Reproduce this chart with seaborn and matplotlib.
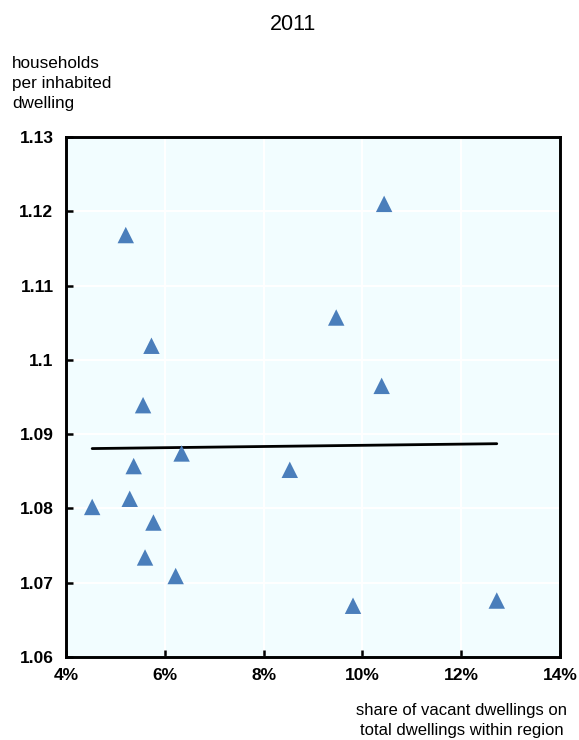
import numpy as np
import pandas as pd
import matplotlib
matplotlib.use("Agg")
import matplotlib.pyplot as plt
import seaborn as sns

# Data
vacant_share = [10.44, 5.21, 9.47, 5.73, 10.39, 5.56, 6.34, 5.37, 8.53, 4.53,
                5.29, 5.77, 5.60, 6.22, 9.81, 12.72]
households_per_dwelling = [1.1210, 1.1168, 1.1057, 1.1019, 1.0965, 1.0939, 1.0874,
                           1.0857, 1.0852, 1.0802, 1.0813, 1.0781, 1.0734, 1.0709,
                           1.0669, 1.0676]
x_ticks = [4, 6, 8, 10, 12, 14]
x_tick_labels = ["4%", "6%", "8%", "10%", "12%", "14%"]
y_ticks = [1.06, 1.07, 1.08, 1.09, 1.10, 1.11, 1.12, 1.13]
y_tick_labels = ["1.06", "1.07", "1.08", "1.09", "1.1", "1.11", "1.12", "1.13"]
title = "2011"
y_title = "households\nper inhabited\ndwelling"
x_title = "share of vacant dwellings on\ntotal dwellings within region"

df = pd.DataFrame({"x": vacant_share, "y": households_per_dwelling})

sns.set_theme(style="white")
plt.rcParams["font.family"] = ["Liberation Sans", "DejaVu Sans"]

fig = plt.figure(figsize=(5.79, 7.40), dpi=100)
ax = fig.add_axes([66 / 579, 1 - 657 / 740, (560 - 66) / 579, (657 - 137) / 740])
ax.set_facecolor("#F2FDFF")

ax.grid(True, color="white", linewidth=1.5)
ax.set_axisbelow(True)

sns.regplot(data=df, x="x", y="y", scatter=False, ci=None, truncate=True,
            color="black", line_kws={"linewidth": 2.0, "zorder": 2}, ax=ax)
sns.scatterplot(data=df, x="x", y="y", marker="^", s=140, color="#4A7EBB",
                edgecolor="none", linewidth=0, zorder=3, ax=ax)

ax.set_xlim(4, 14)
ax.set_ylim(1.06, 1.13)
ax.set_xticks(x_ticks)
ax.set_xticklabels(x_tick_labels)
ax.set_yticks(y_ticks)
ax.set_yticklabels(y_tick_labels)
ax.set_xlabel("")
ax.set_ylabel("")

for side in ["left", "bottom", "top", "right"]:
    ax.spines[side].set_color("black")
    ax.spines[side].set_linewidth(2.1)

ax.tick_params(axis="both", direction="in", length=5, width=1.8, color="black",
               labelsize=12.5, labelcolor="black")
ax.tick_params(axis="x", pad=8, top=False, bottom=True)
ax.tick_params(axis="y", pad=9, right=False, left=True)
for lab in ax.get_xticklabels() + ax.get_yticklabels():
    lab.set_fontweight("bold")

fig.text(293 / 579, 1 - 24 / 740, title, ha="center", va="center", fontsize=15.5, color="black")
fig.text(12 / 579, 1 - 56 / 740, y_title, ha="left", va="top", fontsize=12.3,
         color="black", linespacing=1.4)
fig.text(462 / 579, 1 - 703 / 740, x_title, ha="center", va="top", fontsize=12.0,
         color="black", linespacing=1.4)

fig.savefig("out.png", dpi=100)
